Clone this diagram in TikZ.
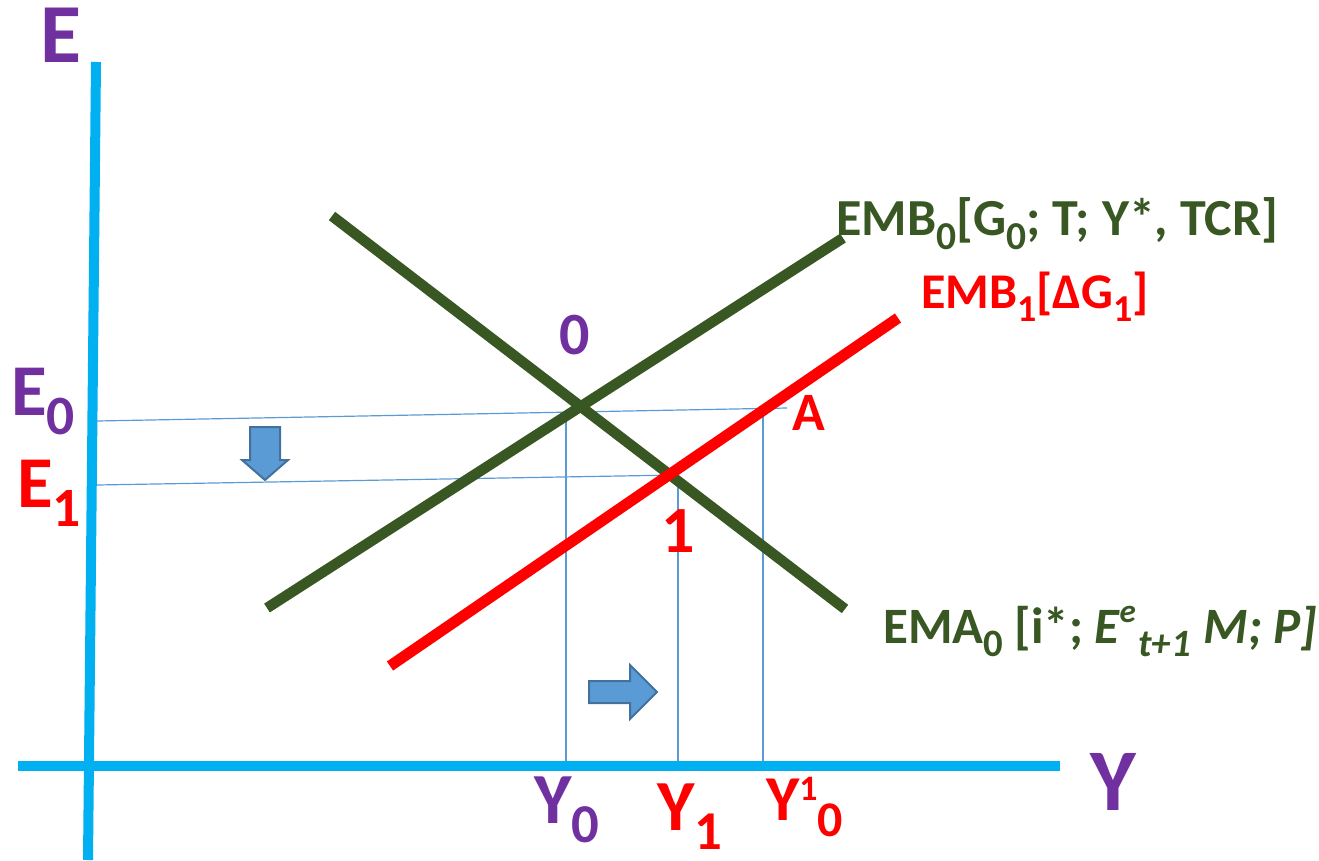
\documentclass[tikz,border=0pt]{standalone}
\usepackage{fontspec}
\setmainfont{Carlito}
\usepackage{graphicx}
\definecolor{dgreen}{HTML}{385723}
\definecolor{epurple}{HTML}{7030A0}
\definecolor{ered}{HTML}{FF0000}
\definecolor{axcyan}{HTML}{00B0F0}
\definecolor{thinblue}{HTML}{5B9BD5}
\definecolor{arrowedge}{HTML}{41719C}
\newcommand{\lo}[1]{\raisebox{-0.27em}{\scalebox{0.76}{#1}}}
\tikzset{
  axisline/.style={draw=axcyan,line width=10pt},
  greenline/.style={draw=dgreen,line width=10.5pt},
  redline/.style={draw=ered,line width=11pt},
  guide/.style={draw=thinblue,line width=1.2pt},
  blockarrow/.style={fill=thinblue,draw=arrowedge,line width=2pt,line join=miter},
  lbl/.style={inner sep=0pt,font=\bfseries},
}
\begin{document}
\begin{tikzpicture}[x=1pt,y=-1pt]
\useasboundingbox (0,0) rectangle (1319,860);
% axes
\coordinate (vtop) at (96,62);
\coordinate (vbot) at (88,860);
\coordinate (hl) at (18,766);
\coordinate (hr) at (1060,766);
\draw[axisline] (vtop) -- (vbot);
\draw[axisline] (hl) -- (hr);
% guide lines
\coordinate (e0a) at (97,421);
\coordinate (e0b) at (787,408);
\coordinate (e1a) at (97,485);
\coordinate (e1b) at (677,475);
\coordinate (y0t) at (566,411);
\coordinate (y0b) at (566,761);
\coordinate (y1t) at (678,475);
\coordinate (y1b) at (678,761);
\coordinate (y10t) at (763,408);
\coordinate (y10b) at (763,761);
\draw[guide] (e0a) -- (e0b);
\draw[guide] (e1a) -- (e1b);
\draw[guide] (y0t) -- (y0b);
\draw[guide] (y1t) -- (y1b);
\draw[guide] (y10t) -- (y10b);
% curves
\coordinate (emb0a) at (267,608);
\coordinate (emb0b) at (843,238);
\coordinate (emaa) at (332,216);
\coordinate (emab) at (845,609);
\coordinate (emb1a) at (390,666);
\coordinate (emb1b) at (898,318);
\draw[greenline] (emb0a) -- (emb0b);
\draw[greenline] (emaa) -- (emab);
\draw[redline] (emb1a) -- (emb1b);
% block arrows
\draw[blockarrow] (250,427) -- (280,427) -- (280,460) -- (288,460) -- (265,480) -- (242,460) -- (250,460) -- cycle;
\draw[blockarrow] (589,681) -- (630,681) -- (630,665) -- (657,692) -- (630,719) -- (630,703) -- (589,703) -- cycle;
% labels
\node[lbl,text=epurple,anchor=base west,font=\bfseries\fontsize{84}{84}\selectfont] (lE) at (40,62) {E};
\node[lbl,text=epurple,anchor=base west,font=\bfseries\fontsize{73}{73}\selectfont] (lE0) at (11,415) {E\lo{0}};
\node[lbl,text=ered,anchor=base west,font=\bfseries\fontsize{73}{73}\selectfont] (lE1) at (17,507) {E\lo{1}};
\node[lbl,text=epurple,anchor=base west,font=\bfseries\fontsize{88}{88}\selectfont] (lY) at (1090,810) {Y};
\node[lbl,text=epurple,anchor=base west,font=\bfseries\fontsize{72}{72}\selectfont] (lY0) at (534,823) {Y\lo{0}};
\node[lbl,text=ered,anchor=base west,font=\bfseries\fontsize{72}{72}\selectfont] (lY1) at (657,830) {Y\lo{1}};
\node[lbl,text=ered,anchor=base west,font=\bfseries\fontsize{64}{64}\selectfont] (lY10) at (766,820) {Y\raisebox{0.31em}{\scalebox{0.56}{1}}\raisebox{-0.25em}{\scalebox{0.78}{0}}};
\node[lbl,text=epurple,font=\bfseries\fontsize{60}{60}\selectfont] (p0) at (575,335) {0};
\node[lbl,text=ered,font=\bfseries\fontsize{66}{66}\selectfont] (p1) at (678,531) {1};
\node[lbl,text=ered,font=\bfseries\fontsize{54}{54}\selectfont] (pA) at (809,413) {A};
\node[lbl,text=dgreen,anchor=base west,font=\bfseries\fontsize{52}{52}\selectfont] (tEMB0) at (836,235) {EMB\lo{0}[G\lo{0}; T; Y*, TCR]};
\node[lbl,text=ered,anchor=base west,font=\bfseries\fontsize{50}{50}\selectfont] (tEMB1) at (921,308) {EMB\lo{1}[ΔG\lo{1}]};
\node[lbl,text=dgreen,anchor=base west,font=\bfseries\fontsize{51}{51}\selectfont] (tEMA0) at (883,643) {EMA\lo{0} [i*; \textit{E\raisebox{0.4em}{\scalebox{0.65}{e}}\kern0.05em\lo{t+1}\kern0.25em M; P]}};
\end{tikzpicture}
\end{document}
